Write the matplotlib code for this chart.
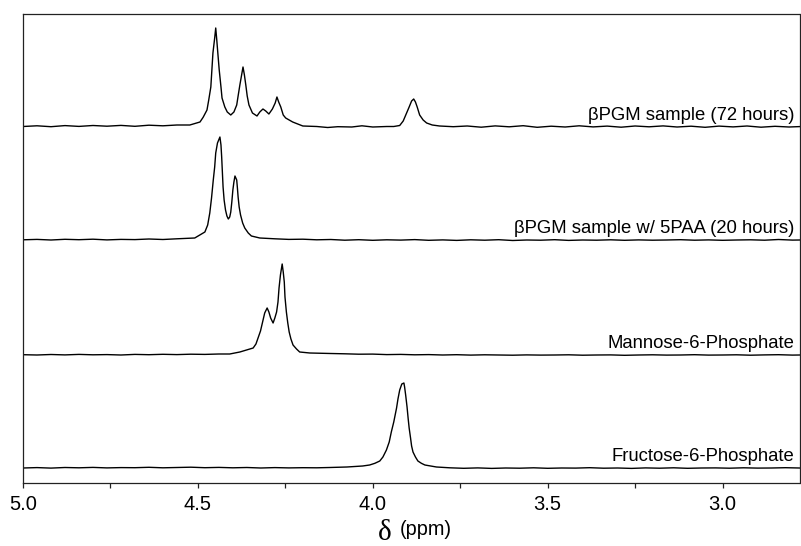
#!/usr/bin/env python3
"""Stacked 1H NMR spectra of the betaPGM samples and sugar-phosphate standards."""
import matplotlib
matplotlib.use("Agg")
import matplotlib.pyplot as plt
import numpy as np

# Chemical shift (ppm) and intensity (arbitrary units).
S1_PPM = [5.00, 4.96, 4.92, 4.88, 4.84, 4.80, 4.76, 4.72, 4.68, 4.64, 4.60, 4.56,
          4.523, 4.494, 4.485, 4.474, 4.469, 4.463, 4.460, 4.457, 4.452, 4.449,
          4.446, 4.443, 4.439, 4.434, 4.431, 4.423, 4.416, 4.406, 4.397, 4.389,
          4.385, 4.380, 4.375, 4.371, 4.367, 4.363, 4.359, 4.354, 4.344, 4.331,
          4.323, 4.314, 4.306, 4.297, 4.287, 4.279, 4.274, 4.269, 4.263, 4.256,
          4.249, 4.229, 4.200, 4.16, 4.129, 4.10, 4.06, 4.031, 4.00, 3.96, 3.940,
          3.923, 3.913, 3.896, 3.889, 3.883, 3.878, 3.873, 3.866, 3.856, 3.846,
          3.830, 3.809, 3.77, 3.73, 3.69, 3.65, 3.61, 3.57, 3.53, 3.49, 3.45,
          3.41, 3.37, 3.33, 3.29, 3.25, 3.21, 3.17, 3.13, 3.09, 3.05, 3.01, 2.97,
          2.93, 2.89, 2.85, 2.81, 2.78]
S1_INT = [0.5, 1.2, 0.3, 1.4, 0.6, 1.5, 0.8, 1.6, 0.7, 1.8, 1.2, 2.0,
          2.0, 5.0, 9.7, 17, 27, 40, 57, 74, 89, 99,
          87, 74, 57, 40, 29, 20, 15, 12, 15, 22,
          31, 42, 52, 60, 52, 42, 31, 22, 14, 11,
          15, 18, 16, 13, 18, 24, 30, 25, 20, 12,
          9, 5, 1.0, 0.5, -0.5, 0.3, 0.0, 1.2, 0.0, 0.5, 0.5,
          1.5, 6, 20, 26, 28, 25, 20, 12, 7, 4,
          2.0, 1.0, 0.3, 1.0, -0.2, 1.1, 0.2, 1.3, -0.3, 0.8, 0.0,
          1.2, 0.1, 0.9, -0.2, 1.0, 0.2, 1.1, 0.0, 0.8, -0.3, 0.9, 0.1,
          1.0, -0.2, 0.7, 0.0, 0.4]

S2_PPM = [5.00, 4.96, 4.92, 4.88, 4.84, 4.80, 4.76, 4.72, 4.68, 4.64, 4.60, 4.56,
          4.509, 4.480, 4.472, 4.466, 4.461, 4.456, 4.452, 4.449, 4.444, 4.437,
          4.434, 4.432, 4.430, 4.428, 4.425, 4.421, 4.417, 4.413, 4.409, 4.406,
          4.403, 4.400, 4.397, 4.394, 4.389, 4.387, 4.385, 4.382, 4.378, 4.372,
          4.366, 4.356, 4.347, 4.323, 4.28, 4.24, 4.20, 4.16, 4.12, 4.08, 4.04,
          4.00, 3.96, 3.92, 3.88, 3.84, 3.80, 3.76, 3.72, 3.68, 3.64, 3.60, 3.56,
          3.52, 3.48, 3.44, 3.40, 3.36, 3.32, 3.28, 3.24, 3.20, 3.16, 3.12, 3.08,
          3.04, 3.00, 2.96, 2.92, 2.88, 2.84, 2.80, 2.78]
S2_INT = [0.2, 0.6, 0.0, 0.7, 0.3, 0.8, 0.1, 0.6, 0.4, 1.0, 0.5, 1.2,
          2.0, 8, 15, 27, 42, 60, 73, 87, 97, 103,
          95, 83, 68, 53, 40, 30, 24, 21, 23, 28,
          38, 50, 58, 64, 60, 52, 43, 33, 25, 17,
          12, 7, 4, 2.0, 1.2, 0.6, 0.8, 0.2, 0.5, -0.2, 0.3,
          -0.3, 0.2, -0.1, 0.4, -0.3, 0.1, -0.4, 0.2, -0.2, 0.3, -0.5, 0.0,
          -0.2, 0.3, -0.4, 0.0, -0.2, 0.2, -0.3, 0.1, -0.2, 0.0, 0.3, -0.2,
          0.1, -0.3, 0.0, 0.2, -0.2, 0.5, -0.1, 0.0]

S3_PPM = [5.00, 4.96, 4.92, 4.88, 4.84, 4.80, 4.76, 4.72, 4.68, 4.64, 4.60, 4.56,
          4.52, 4.48, 4.44, 4.409, 4.380, 4.361, 4.342, 4.334, 4.328, 4.321,
          4.315, 4.309, 4.302, 4.297, 4.292, 4.285, 4.280, 4.275, 4.271, 4.268,
          4.264, 4.259, 4.256, 4.253, 4.251, 4.247, 4.243, 4.239, 4.234, 4.228,
          4.218, 4.209, 4.180, 4.12, 4.08, 4.04, 4.00, 3.96, 3.92, 3.88, 3.84,
          3.80, 3.76, 3.72, 3.68, 3.64, 3.60, 3.56, 3.52, 3.48, 3.44, 3.40, 3.36,
          3.32, 3.28, 3.24, 3.20, 3.16, 3.12, 3.08, 3.04, 3.00, 2.96, 2.92, 2.88,
          2.84, 2.80, 2.78]
S3_INT = [0.3, 0.0, 0.5, 0.1, 0.6, 0.2, 0.4, 0.0, 0.6, 0.3, 0.7, 0.4,
          0.8, 0.6, 1.0, 1.0, 3.0, 5.0, 7, 11, 17, 24,
          33, 42, 47, 43, 37, 32, 37, 43, 53, 67,
          80, 91, 83, 73, 58, 43, 32, 23, 16, 10,
          6, 3.0, 2.0, 1.5, 1.2, 0.8, 0.9, 0.4, 0.6, 0.2, 0.4,
          0.0, 0.3, -0.1, 0.2, 0.0, -0.2, 0.1, -0.1, 0.0, 0.2, -0.2, 0.0,
          0.1, -0.3, 0.0, 0.2, -0.1, 0.0, 0.3, -0.1, 0.0, 0.2, -0.2, 0.1,
          0.3, -0.1, 0.0]

S4_PPM = [5.00, 4.96, 4.92, 4.88, 4.84, 4.80, 4.76, 4.72, 4.68, 4.64, 4.60, 4.56,
          4.52, 4.48, 4.44, 4.40, 4.36, 4.32, 4.28, 4.24, 4.20, 4.16, 4.123,
          4.074, 4.029, 4.009, 3.994, 3.980, 3.971, 3.961, 3.953, 3.947, 3.940,
          3.932, 3.928, 3.923, 3.917, 3.911, 3.909, 3.906, 3.902, 3.899, 3.896,
          3.892, 3.889, 3.885, 3.878, 3.871, 3.861, 3.851, 3.818, 3.78, 3.74,
          3.70, 3.66, 3.62, 3.58, 3.54, 3.50, 3.46, 3.42, 3.38, 3.34, 3.30, 3.26,
          3.22, 3.18, 3.14, 3.10, 3.06, 3.02, 2.98, 2.94, 2.90, 2.86, 2.82, 2.78]
S4_INT = [0.0, 0.4, -0.1, 0.5, 0.2, 0.6, 0.1, 0.4, 0.3, 0.7, 0.2, 0.5,
          0.8, 0.3, 0.6, 0.2, 0.5, 0.0, 0.4, 0.1, 0.3, 0.2, 0.5,
          1.0, 2.0, 3.0, 4.7, 7, 11, 18, 26, 36, 46,
          60, 69, 78, 84, 85, 81, 73, 61, 50, 40,
          30, 22, 16, 11, 7, 4.7, 3.0, 1.0, 0.2, -0.3,
          0.1, -0.4, 0.0, -0.2, 0.2, -0.3, 0.0, -0.1, 0.3, -0.2, 0.0, -0.4,
          0.1, -0.2, 0.2, -0.3, 0.0, 0.1, -0.2, 0.2, -0.1, 0.0, 0.3, 0.0]

LABELS = ["\u03b2PGM sample (72 hours)",
          "\u03b2PGM sample w/ 5PAA (20 hours)",
          "Mannose-6-Phosphate",
          "Fructose-6-Phosphate"]

MAJOR_TICKS = [5.0, 4.5, 4.0, 3.5, 3.0]
MINOR_TICKS = [4.75, 4.25, 3.75, 3.25]

# vertical stacking offsets of each trace, top to bottom
OFFSETS = [356, 243, 128, 15]


def main() -> None:
    plt.rcParams["font.family"] = ["Liberation Sans", "DejaVu Sans"]
    fig = plt.figure(figsize=(8.01, 5.46), dpi=100, facecolor="white")
    ax = fig.add_axes([23 / 801, 1 - 483 / 546, 776.5 / 801, 469 / 546])

    spectra = [(S1_PPM, S1_INT), (S2_PPM, S2_INT), (S3_PPM, S3_INT), (S4_PPM, S4_INT)]
    for (ppm, inten), offset, label in zip(spectra, OFFSETS, LABELS):
        ax.plot(ppm, np.asarray(inten) + offset, color="black", lw=1.0)
        ax.text(2.794, offset + 7, label, ha="right", va="baseline", fontsize=13.3)

    ax.set_xlim(5.0, 2.78)
    ax.set_ylim(0, 469)
    ax.set_xticks(MAJOR_TICKS)
    ax.set_xticklabels([f"{t:.1f}" for t in MAJOR_TICKS])
    ax.set_xticks(MINOR_TICKS, minor=True)
    ax.set_yticks([])
    ax.tick_params(axis="x", which="both", direction="out", length=3.6, width=0.9,
                   pad=5, labelsize=14.5, color="#222222")
    for spine in ax.spines.values():
        spine.set_linewidth(0.9)
        spine.set_color("#222222")

    fig.text(378 / 801, 1 - 540 / 546, "\u03b4", fontsize=21,
             family=["Liberation Serif", "DejaVu Serif"], ha="left", va="baseline")
    fig.text(400 / 801, 1 - 535 / 546, "(ppm)", fontsize=14.3, ha="left", va="baseline")

    fig.savefig("out.png", dpi=100, facecolor="white")
    plt.close(fig)


if __name__ == "__main__":
    main()
